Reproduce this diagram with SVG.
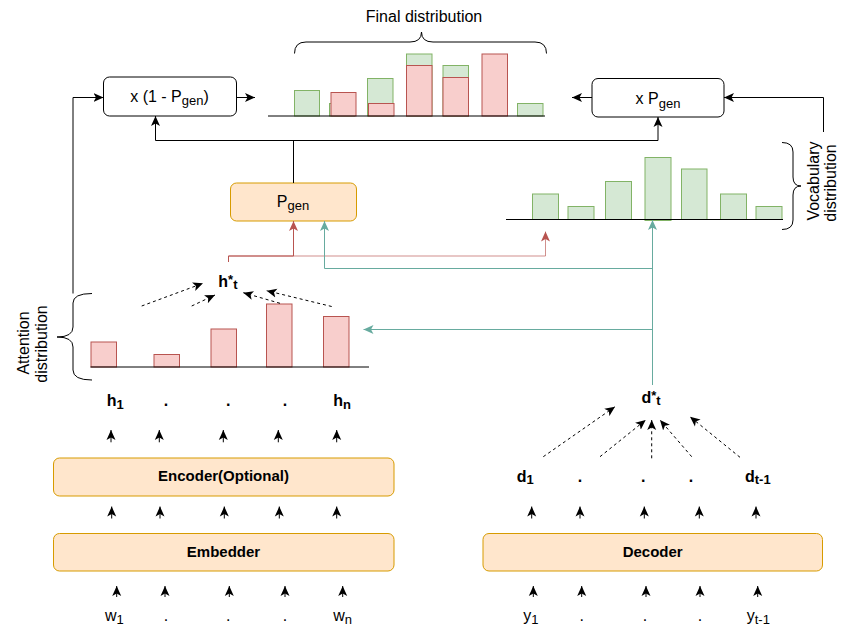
<svg xmlns="http://www.w3.org/2000/svg" width="842" height="630" viewBox="0 0 842 630">
  <style>
    text { font-family: "Liberation Sans", Arial, Helvetica, sans-serif; fill: #000; }
    .lbl { font-size: 16px; }
    .b { font-weight: bold; }
    .box-title { font-size: 15px; font-weight: bold; text-anchor: middle; }
    .sub { font-size: 13px; }
    .op { fill: #fff; stroke: #000; stroke-width: 1; }
    .layer { fill: #ffe6cc; stroke: #d79b00; stroke-width: 1; }
    .bar-r { fill: #f8cecc; stroke: #b85450; stroke-width: 1; }
    .bar-g { fill: #d5e8d4; stroke: #82b366; stroke-width: 1; }
    .axis { stroke: #000; stroke-width: 1; fill: none; }
    .brace { stroke: #000; stroke-width: 1; fill: none; }
    .edge { stroke: #000; stroke-width: 1; fill: none; marker-end: url(#ah); }
    .dash { stroke: #000; stroke-width: 1; fill: none; stroke-dasharray: 3 3; marker-end: url(#ah); }
    .edge-r { stroke: #b85450; stroke-width: 1; fill: none; marker-end: url(#ah-r); }
    .edge-r2 { stroke: #b85450; stroke-opacity: 0.65; stroke-width: 1; fill: none; marker-end: url(#ah-r); }
    .edge-t { stroke: #67ab9f; stroke-width: 1; fill: none; marker-end: url(#ah-t); }
    .plain { stroke: #000; stroke-width: 1; fill: none; }
  </style>
  <defs>
    <marker id="ah" viewBox="0 0 10 10" refX="10" refY="5" markerWidth="10" markerHeight="10" markerUnits="userSpaceOnUse" orient="auto">
      <path d="M0,0.5 L10,5 L0,9.5 L2.5,5 Z" fill="#000"/>
    </marker>
    <marker id="ah-r" viewBox="0 0 10 10" refX="10" refY="5" markerWidth="10" markerHeight="10" markerUnits="userSpaceOnUse" orient="auto">
      <path d="M0,0.5 L10,5 L0,9.5 L2.5,5 Z" fill="#b85450"/>
    </marker>
    <marker id="ah-t" viewBox="0 0 10 10" refX="10" refY="5" markerWidth="10" markerHeight="10" markerUnits="userSpaceOnUse" orient="auto">
      <path d="M0,0.5 L10,5 L0,9.5 L2.5,5 Z" fill="#67ab9f"/>
    </marker>
  </defs>

  <rect width="842" height="630" fill="#fff"/>

  <!-- Final distribution chart -->
  <g id="final-distribution">
    <text class="lbl" x="424" y="22" text-anchor="middle">Final distribution</text>
    <path class="brace" d="M294.5,53.5 Q294.5,42 306,42 L410,42 Q421.5,42 421.5,32 Q421.5,42 433,42 L535,42 Q546.5,42 546.5,53.5"/>
    <rect class="bar-g" x="294.5" y="90.5" width="25" height="25.5"/>
    <rect class="bar-g" x="329.5" y="103.5" width="25" height="12.5"/>
    <rect class="bar-r" x="331" y="92.5" width="25" height="23.5"/>
    <rect class="bar-g" x="367.5" y="78.5" width="25.5" height="37.5"/>
    <rect class="bar-r" x="368.5" y="103.5" width="25.5" height="12.5"/>
    <rect class="bar-g" x="406.5" y="54" width="25.5" height="62"/>
    <rect class="bar-r" x="406.5" y="65.5" width="25.5" height="50.5"/>
    <rect class="bar-g" x="443" y="65.5" width="25.5" height="50.5"/>
    <rect class="bar-r" x="443" y="77.5" width="25.5" height="38.5"/>
    <rect class="bar-r" x="482" y="54" width="25.5" height="62"/>
    <rect class="bar-g" x="517.5" y="103.5" width="25.5" height="12.5"/>
    <line class="axis" x1="268" y1="116" x2="545" y2="116"/>
  </g>

  <!-- Copy-weighting operator -->
  <g id="copy-weight">
    <rect class="op" x="103.5" y="77" width="133" height="39" rx="6"/>
    <text class="lbl" x="169.5" y="101.7" text-anchor="middle">x (1 - P<tspan class="sub" dy="3.7">gen</tspan><tspan dy="-3.7">)</tspan></text>
  </g>

  <!-- Generation-weighting operator -->
  <g id="gen-weight">
    <rect class="op" x="592" y="78.5" width="132" height="38.5" rx="6"/>
    <text class="lbl" x="658" y="104.3" text-anchor="middle">x P<tspan class="sub" dy="3.7">gen</tspan></text>
  </g>

  <!-- Generation probability -->
  <g id="p-gen">
    <rect class="layer" x="230.5" y="183" width="126" height="38" rx="6"/>
    <text class="lbl" x="293" y="206.5" text-anchor="middle">P<tspan class="sub" dy="3.7">gen</tspan></text>
  </g>

  <!-- Vocabulary distribution chart -->
  <g id="vocab-distribution">
    <rect class="bar-g" x="532.5" y="194" width="26" height="25.5"/>
    <rect class="bar-g" x="568" y="206.5" width="26" height="13"/>
    <rect class="bar-g" x="605.5" y="181.5" width="26" height="38"/>
    <rect class="bar-g" x="645" y="157.5" width="26" height="63"/>
    <rect class="bar-g" x="681.5" y="169" width="25.5" height="50.5"/>
    <rect class="bar-g" x="720.5" y="194" width="26" height="25.5"/>
    <rect class="bar-g" x="756" y="206.5" width="26" height="13"/>
    <line class="axis" x1="506" y1="219.5" x2="783" y2="219.5"/>
    <path class="brace" d="M782,142.5 Q793,142.5 793,152 L793,177 Q793,186 801,186 Q793,186 793,195 L793,220 Q793,229.5 782,229.5"/>
    <text class="lbl" transform="translate(818.5,181) rotate(-90)" text-anchor="middle">Vocabulary</text>
    <text class="lbl" transform="translate(836,183) rotate(-90)" text-anchor="middle">distribution</text>
  </g>

  <!-- Context vector -->
  <g id="context-vector">
    <text class="lbl b" x="218.3" y="286.7">h<tspan class="sub" dy="-3">*</tspan><tspan class="sub" dy="5">t</tspan></text>
  </g>

  <!-- Attention distribution chart -->
  <g id="attention-distribution">
    <rect class="bar-r" x="91" y="342" width="25.5" height="25"/>
    <rect class="bar-r" x="154" y="354.5" width="25.5" height="12.5"/>
    <rect class="bar-r" x="211" y="329" width="25.5" height="38"/>
    <rect class="bar-r" x="266.5" y="304" width="25.5" height="63"/>
    <rect class="bar-r" x="323.5" y="316.5" width="25.5" height="50.5"/>
    <line class="axis" x1="90.5" y1="367" x2="369" y2="367"/>
    <path class="brace" d="M92,293.5 Q73,293.5 73,303 L73,327 Q73,337 57,337 Q73,337 73,347 L73,370 Q73,380 92,380"/>
    <text class="lbl" transform="translate(28.5,343) rotate(-90)" text-anchor="middle">Attention</text>
    <text class="lbl" transform="translate(46.5,344) rotate(-90)" text-anchor="middle">distribution</text>
  </g>

  <!-- Encoder hidden states -->
  <g id="encoder-states">
    <text class="lbl b" x="106.7" y="406">h<tspan class="sub" dy="2.5">1</tspan></text>
    <text class="lbl b" x="166" y="406" text-anchor="middle">.</text>
    <text class="lbl b" x="228.3" y="406" text-anchor="middle">.</text>
    <text class="lbl b" x="285" y="406" text-anchor="middle">.</text>
    <text class="lbl b" x="333.3" y="406">h<tspan class="sub" dy="2.5">n</tspan></text>
  </g>

  <g id="encoder">
    <rect class="layer" x="53.5" y="458" width="340.5" height="38" rx="6"/>
    <text class="box-title" x="223.5" y="480.5">Encoder(Optional)</text>
  </g>

  <g id="embedder">
    <rect class="layer" x="53.5" y="533.5" width="340.5" height="37.5" rx="6"/>
    <text class="box-title" x="223.5" y="557">Embedder</text>
  </g>

  <!-- Source tokens -->
  <g id="source-tokens">
    <text class="lbl" x="105" y="620.5">w<tspan class="sub" dy="3.5">1</tspan></text>
    <text class="lbl" x="166" y="620.5" text-anchor="middle">.</text>
    <text class="lbl" x="228.3" y="620.5" text-anchor="middle">.</text>
    <text class="lbl" x="285" y="620.5" text-anchor="middle">.</text>
    <text class="lbl" x="333.3" y="620.5">w<tspan class="sub" dy="3.5">n</tspan></text>
  </g>

  <!-- Decoder state summary -->
  <g id="decoder-context">
    <text class="lbl b" x="641.5" y="402.5">d<tspan class="sub" dy="-3">*</tspan><tspan class="sub" dy="5">t</tspan></text>
  </g>

  <!-- Decoder hidden states -->
  <g id="decoder-states">
    <text class="lbl b" x="516.7" y="481.7">d<tspan class="sub" dy="2.5">1</tspan></text>
    <text class="lbl b" x="580" y="481.7" text-anchor="middle">.</text>
    <text class="lbl b" x="643.3" y="481.7" text-anchor="middle">.</text>
    <text class="lbl b" x="691" y="481.7" text-anchor="middle">.</text>
    <text class="lbl b" x="745" y="481.7">d<tspan class="sub" dy="2.5">t-1</tspan></text>
  </g>

  <g id="decoder">
    <rect class="layer" x="483" y="533.5" width="339.5" height="37.5" rx="6"/>
    <text class="box-title" x="652.7" y="557">Decoder</text>
  </g>

  <!-- Target tokens -->
  <g id="target-tokens">
    <text class="lbl" x="523.3" y="620.5">y<tspan class="sub" dy="3.5">1</tspan></text>
    <text class="lbl" x="581.7" y="620.5" text-anchor="middle">.</text>
    <text class="lbl" x="645" y="620.5" text-anchor="middle">.</text>
    <text class="lbl" x="700" y="620.5" text-anchor="middle">.</text>
    <text class="lbl" x="746.7" y="620.5">y<tspan class="sub" dy="3.5">t-1</tspan></text>
  </g>

  <!-- Connectors -->
  <g id="connectors">
    <!-- mixing into the final distribution -->
    <path class="edge" d="M73,293.5 L73,97.5 L103.5,97.5"/>
    <path class="edge" d="M236.5,97.5 L255,97.5"/>
    <path class="edge" d="M592,97.5 L572,97.5"/>
    <path class="edge" d="M823.5,132 L823.5,97.5 L724,97.5"/>
    <path class="plain" d="M293.5,183 L293.5,140.5"/>
    <path class="plain" d="M155.5,140.5 L658,140.5"/>
    <path class="edge" d="M155.5,140.5 L155.5,116"/>
    <path class="edge" d="M658,140.5 L658,117"/>

    <!-- context vector feeds -->
    <path class="edge-r2" d="M228.5,262 L228.5,256 L545.5,256 L545.5,231.5"/>
    <path class="edge-r" d="M228.5,262 L228.5,256 L293.5,256 L293.5,221"/>

    <!-- decoder state feeds -->
    <path class="edge-t" d="M652.5,385 L652.5,220"/>
    <path class="edge-t" d="M652.5,268.5 L324.5,268.5 L324.5,221"/>
    <path class="edge-t" d="M652.5,329.5 L363.5,329.5"/>

    <!-- attention weighting -->
    <path class="dash" d="M141.7,306 L203,283.3"/>
    <path class="dash" d="M191.7,306 L215,295"/>
    <path class="dash" d="M280,303.3 L243.3,292.7"/>
    <path class="dash" d="M331.7,306.5 L266.7,290.7"/>

    <!-- decoder state pooling -->
    <path class="dash" d="M543.3,456.7 L615,406.7"/>
    <path class="dash" d="M600,456.7 L645.7,420"/>
    <path class="dash" d="M651.7,458.3 L651.7,420"/>
    <path class="dash" d="M691.7,456.7 L660,420"/>
    <path class="dash" d="M740,457.3 L690,416.7"/>

    <!-- encoder outputs -->
    <line class="edge" x1="111" y1="442.3" x2="111" y2="430"/>
    <line class="edge" x1="159.3" y1="442.3" x2="159.3" y2="430"/>
    <line class="edge" x1="223.3" y1="442.3" x2="223.3" y2="430"/>
    <line class="edge" x1="278.3" y1="442.3" x2="278.3" y2="430"/>
    <line class="edge" x1="336.7" y1="442.3" x2="336.7" y2="430"/>

    <!-- embedder outputs -->
    <line class="edge" x1="111.7" y1="518.5" x2="111.7" y2="506.5"/>
    <line class="edge" x1="160" y1="518.5" x2="160" y2="506.5"/>
    <line class="edge" x1="224.3" y1="518.5" x2="224.3" y2="506.5"/>
    <line class="edge" x1="279.3" y1="518.5" x2="279.3" y2="506.5"/>
    <line class="edge" x1="336.7" y1="518.5" x2="336.7" y2="506.5"/>

    <!-- source token inputs -->
    <line class="edge" x1="116.7" y1="597" x2="116.7" y2="586"/>
    <line class="edge" x1="165" y1="597" x2="165" y2="586"/>
    <line class="edge" x1="229.3" y1="597" x2="229.3" y2="586"/>
    <line class="edge" x1="285" y1="597" x2="285" y2="586"/>
    <line class="edge" x1="342.7" y1="597" x2="342.7" y2="586"/>

    <!-- decoder outputs -->
    <line class="edge" x1="531.7" y1="518.5" x2="531.7" y2="506.5"/>
    <line class="edge" x1="580" y1="518.5" x2="580" y2="506.5"/>
    <line class="edge" x1="644.3" y1="518.5" x2="644.3" y2="506.5"/>
    <line class="edge" x1="699.3" y1="518.5" x2="699.3" y2="506.5"/>
    <line class="edge" x1="756" y1="518.5" x2="756" y2="506.5"/>

    <!-- target token inputs -->
    <line class="edge" x1="533.3" y1="597" x2="533.3" y2="586"/>
    <line class="edge" x1="581.7" y1="597" x2="581.7" y2="586"/>
    <line class="edge" x1="646" y1="597" x2="646" y2="586"/>
    <line class="edge" x1="700" y1="597" x2="700" y2="586"/>
    <line class="edge" x1="757.7" y1="597" x2="757.7" y2="586"/>
  </g>
</svg>
